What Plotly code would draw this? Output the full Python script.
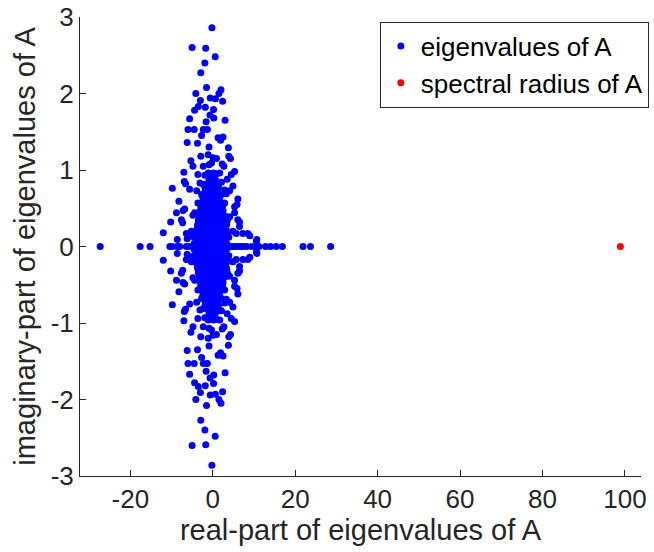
import plotly.graph_objects as go

# eigenvalues with positive imaginary part (their conjugates are also eigenvalues)
outer_upper = [
    (-0.2, 2.86), (-5.0, 2.60), (-1.7, 2.59), (0.6, 2.48), (-1.9, 2.40), (-2.9, 2.27),
    (-1.5, 2.08), (-4.1, 2.00), (2.0, 2.05), (1.5, 2.00), (-0.6, 1.94), (0.65, 1.93),
    (-3.0, 1.91), (2.4, 1.90), (-3.5, 1.83), (-1.8, 1.82), (-4.4, 1.78), (0.2, 1.79),
    (-0.65, 1.72), (0.25, 1.68), (-5.6, 1.67), (-1.6, 1.63), (3.0, 1.65), (-6.0, 1.53),
    (-4.5, 1.53), (-2.3, 1.53), (-1.3, 1.53), (-2.7, 1.45), (1.3, 1.42), (1.9, 1.39),
    (2.5, 1.43), (-6.2, 1.36), (-3.7, 1.35), (-0.9, 1.30), (3.8, 1.29), (-2.9, 1.18),
    (-1.1, 1.20), (0.1, 1.16), (0.9, 1.15), (-5.3, 1.12), (3.9, 1.18), (4.3, 1.15),
    (-4.8, 1.05), (-2.3, 1.05), (-0.9, 1.07), (-0.3, 1.09), (2.3, 1.08), (2.7, 1.05),
    (-7.0, 0.97), (-3.6, 0.94), (-1.9, 0.93), (-1.1, 0.96), (0.9, 0.95), (1.7, 0.96),
    (4.5, 0.94), (5.3, 0.98), (-6.9, 0.85), (-6.6, 0.82), (-3.1, 0.83), (-2.3, 0.81),
    (-0.3, 0.85), (1.3, 0.83), (2.1, 0.84), (3.5, 0.88), (-9.8, 0.76), (-5.6, 0.75),
    (-3.9, 0.73), (2.9, 0.74), (4.9, 0.79), (4.1, 0.73), (-2.7, 0.68), (-1.5, 0.70),
    (0.1, 0.72), (0.9, 0.66), (2.1, 0.68), (3.3, 0.69), (6.1, 0.62), (-8.2, 0.59),
    (-3.6, 0.57), (-2.3, 0.55), (-1.1, 0.59), (0.5, 0.56), (1.7, 0.59), (2.9, 0.57),
    (5.3, 0.52), (5.9, 0.55), (-6.8, 0.49), (-8.8, 0.44), (-7.2, 0.47), (-4.4, 0.44),
    (-4.8, 0.41), (4.1, 0.39), (5.3, 0.44), (6.1, 0.35), (6.5, 0.32), (-10.2, 0.32),
    (-7.6, 0.35), (-7.3, 0.31), (-6.4, 0.17), (-12.0, 0.18), (8.5, 0.17), (9.0, 0.14),
    (10.7, 0.09), (-5.2, 0.20), (-4.9, 0.13), (4.9, 0.20), (5.7, 0.17), (-8.6, 0.09),
    (7.3, 0.17), (10.6, 0.07), (6.5, 0.26), (-6.2, 0.10),
]

# dense cluster near the origin (upper half)
core_upper = [
    (-4.5, 0.04), (-3.6, 0.05), (-2.9, 0.03), (-2.0, 0.05), (-1.3, 0.04), (-0.4, 0.03),
    (0.3, 0.05), (1.2, 0.04), (1.9, 0.03), (2.8, 0.05), (3.4, 0.04),
    (-4.1, 0.10), (-3.2, 0.11), (-2.5, 0.09), (-1.6, 0.10), (-0.9, 0.11), (-0.1, 0.09),
    (0.8, 0.10), (1.5, 0.11), (2.4, 0.09), (3.1, 0.10), (3.9, 0.12),
    (-4.3, 0.17), (-3.4, 0.16), (-2.7, 0.15), (-1.8, 0.17), (-1.1, 0.16), (-0.3, 0.15),
    (0.5, 0.17), (1.4, 0.16), (2.1, 0.15), (2.9, 0.17), (3.6, 0.16),
    (-3.9, 0.22), (-3.0, 0.23), (-2.3, 0.21), (-1.4, 0.22), (-0.7, 0.23), (0.1, 0.21),
    (1.0, 0.22), (1.7, 0.23), (2.6, 0.21), (3.3, 0.22),
    (-3.7, 0.28), (-2.8, 0.29), (-2.1, 0.27), (-1.2, 0.28), (-0.5, 0.29), (0.4, 0.27),
    (1.1, 0.28), (2.0, 0.29), (2.7, 0.27), (3.4, 0.29),
    (-3.5, 0.34), (-2.7, 0.35), (-1.9, 0.33), (-1.2, 0.34), (-0.3, 0.35), (0.4, 0.33),
    (1.3, 0.34), (2.0, 0.35), (2.8, 0.33), (3.6, 0.35),
    (-3.3, 0.40), (-2.4, 0.41), (-1.7, 0.39), (-0.8, 0.40), (-0.1, 0.41), (0.8, 0.39),
    (1.5, 0.40), (2.4, 0.41), (3.0, 0.40),
    (-3.1, 0.46), (-2.2, 0.47), (-1.5, 0.45), (-0.6, 0.46), (0.1, 0.47), (1.0, 0.45),
    (1.7, 0.46), (2.5, 0.47),
    (-2.9, 0.52), (-2.0, 0.53), (-1.3, 0.51), (-0.4, 0.52), (0.3, 0.53), (1.2, 0.51),
    (1.9, 0.52), (2.4, 0.53),
    (-2.5, 0.58), (-1.6, 0.59), (-0.9, 0.57), (0.0, 0.58), (0.7, 0.59), (1.5, 0.57),
    (-2.4, 0.64), (-1.5, 0.65), (-0.8, 0.63), (0.1, 0.64), (0.8, 0.65), (1.6, 0.63),
    (-2.0, 0.70), (-1.1, 0.71), (-0.4, 0.69), (0.5, 0.70), (1.2, 0.71),
    (-1.8, 0.76), (-0.9, 0.77), (-0.2, 0.75), (0.7, 0.76), (1.4, 0.77),
    (-1.3, 0.82), (-0.5, 0.83), (0.3, 0.81), (1.0, 0.82),
    (-0.9, 0.88), (-0.1, 0.89), (0.7, 0.87),
    (-0.6, 0.95), (0.2, 0.96),
]

# real eigenvalues
real_axis = [
    -27.3, -17.6, -15.2, -10.4, -9.8, -8.6, -8.0, -6.4, -5.7, -4.6, -3.8, -3.0, -2.2,
    -1.4, -0.6, 0.2, 1.0, 1.8, 2.6, 3.4, 4.0, 4.6, 5.2, 5.8, 6.4, 7.0, 7.4, 8.2, 9.4,
    10.6, 11.2, 12.8, 14.0, 15.4, 16.9, 21.9, 23.7, 28.6,
]

spectral_radius_re = [98.9]
spectral_radius_im = [0.0]

x_ticks = [-20, 0, 20, 40, 60, 80, 100]
x_tick_labels = ["-20", "0", "20", "40", "60", "80", "100"]
y_ticks = [-3, -2, -1, 0, 1, 2, 3]
y_tick_labels = ["-3", "-2", "-1", "0", "1", "2", "3"]

upper = outer_upper + core_upper
eig_re = [p[0] for p in upper] + [p[0] for p in upper] + real_axis
eig_im = [p[1] for p in upper] + [-p[1] for p in upper] + [0.0 for _ in real_axis]

axis_color = "#262626"
font_family = "Liberation Sans, Arial, sans-serif"

fig = go.Figure()
fig.add_trace(go.Scatter(
    x=eig_re, y=eig_im, mode="markers", name="eigenvalues of A",
    marker=dict(color="#0000FF", size=7, line=dict(width=0)),
))
fig.add_trace(go.Scatter(
    x=spectral_radius_re, y=spectral_radius_im, mode="markers", name="spectral radius of A",
    marker=dict(color="#FF0000", size=7, line=dict(width=0)),
))

fig.update_layout(
    width=654, height=552,
    margin=dict(l=80, r=13, t=17, b=76, autoexpand=False),
    paper_bgcolor="white", plot_bgcolor="white",
    font=dict(family=font_family, color=axis_color, size=26),
    showlegend=True,
    legend=dict(
        x=1.014, xanchor="right", y=0.99, yanchor="top",
        bordercolor=axis_color, borderwidth=1, bgcolor="white",
        font=dict(size=26, color="black"),
    ),
    xaxis=dict(
        range=[-32.2, 103.9], tickvals=x_ticks, ticktext=x_tick_labels,
        showline=True, linecolor=axis_color, linewidth=1, mirror=False,
        ticks="inside", ticklen=6, tickcolor=axis_color, showgrid=False, zeroline=False,
        tickfont=dict(size=26), automargin=False,
        title=dict(text="real-part of eigenvalues of A", font=dict(size=29), standoff=6),
    ),
    yaxis=dict(
        range=[-3, 3], tickvals=y_ticks, ticktext=y_tick_labels,
        showline=True, linecolor=axis_color, linewidth=1, mirror=False,
        ticks="inside", ticklen=6, tickcolor=axis_color, showgrid=False, zeroline=False,
        tickfont=dict(size=26), automargin=False,
        title=dict(text="imaginary-part of eigenvalues of A", font=dict(size=29), standoff=6),
    ),
)

fig.write_html(
    "out.html",
    config={"displayModeBar": False},
    post_script="document.body.style.margin='0px';",
)
